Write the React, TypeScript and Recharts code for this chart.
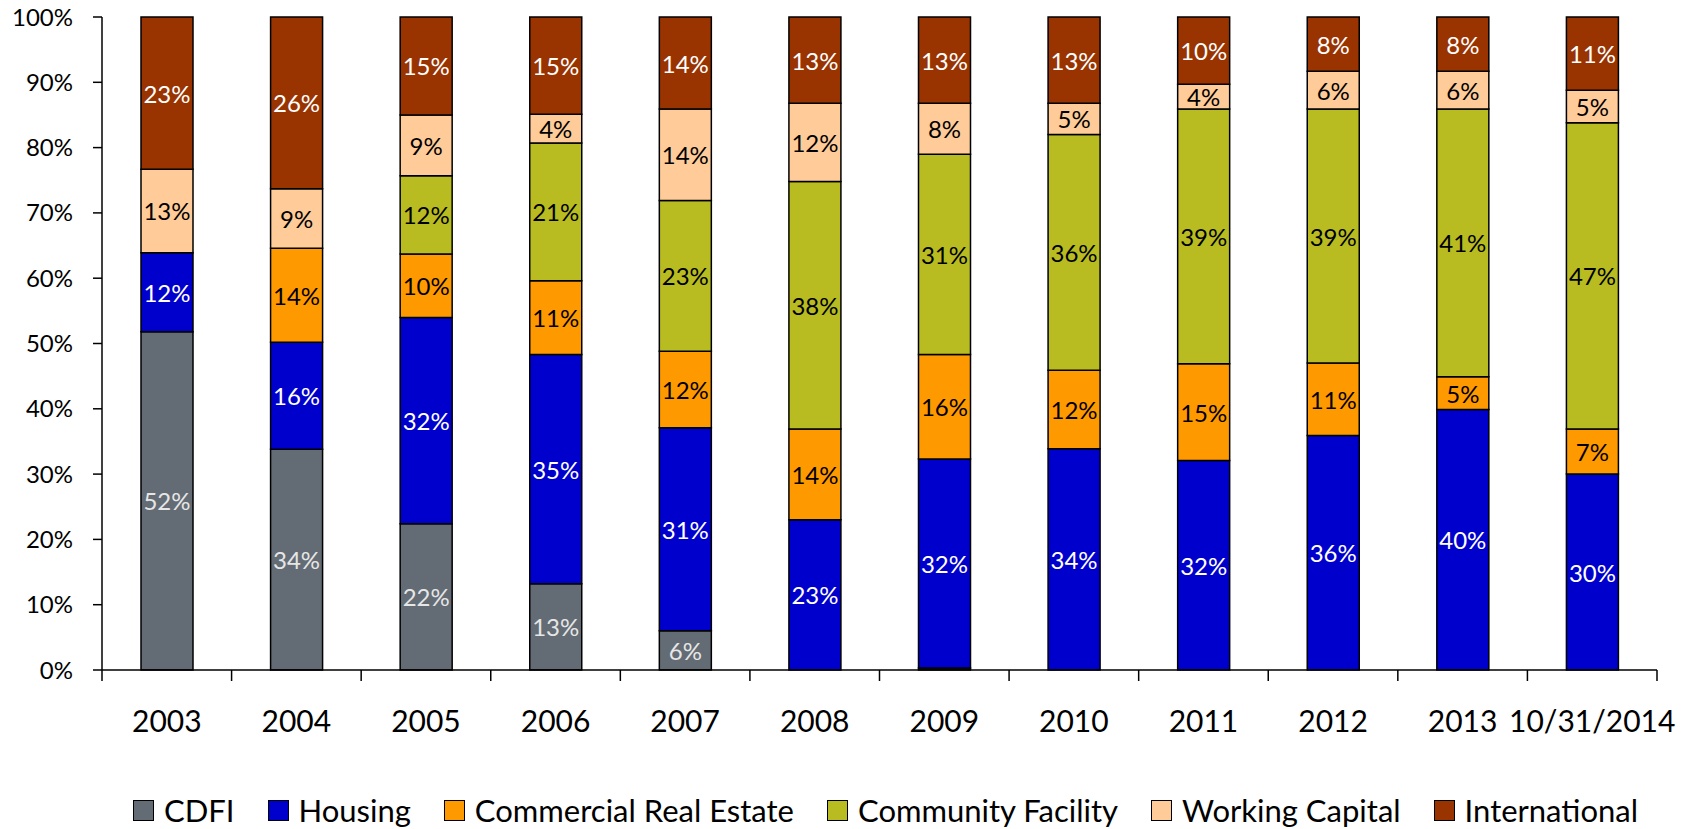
import React from 'react';
import { BarChart, Bar, XAxis, YAxis, Legend, LabelList } from 'recharts';

const years = ['2003', '2004', '2005', '2006', '2007', '2008', '2009', '2010', '2011', '2012', '2013', '10/31/2014'];
const cdfi = [51.8, 33.8, 22.4, 13.2, 6.0, 0, 0.3, 0, 0, 0, 0, 0];
const housing = [12.1, 16.4, 31.6, 35.1, 31.1, 23.0, 32.0, 33.9, 32.1, 35.9, 39.9, 30.0];
const commercial = [0, 14.4, 9.7, 11.3, 11.7, 13.9, 16.0, 12.0, 14.8, 11.1, 5.0, 6.9];
const community = [0, 0, 12.0, 21.1, 23.1, 37.9, 30.7, 36.1, 39.0, 38.9, 41.0, 46.9];
const working = [12.8, 9.1, 9.3, 4.4, 14.0, 12.0, 7.8, 4.8, 3.8, 5.8, 5.8, 5.0];
const international = [23.3, 26.3, 15.0, 14.9, 14.1, 13.2, 13.2, 13.2, 10.3, 8.3, 8.3, 11.2];
const yTicks = [0, 10, 20, 30, 40, 50, 60, 70, 80, 90, 100];

const series = [
  { key: 'cdfi', name: 'CDFI', values: cdfi, color: '#636b74', label: '#e6e6e6' },
  { key: 'housing', name: 'Housing', values: housing, color: '#0000cc', label: '#ffffff' },
  { key: 'commercial', name: 'Commercial Real Estate', values: commercial, color: '#ff9900', label: '#000000' },
  { key: 'community', name: 'Community Facility', values: community, color: '#b9bc21', label: '#000000' },
  { key: 'working', name: 'Working Capital', values: working, color: '#ffcc99', label: '#000000' },
  { key: 'international', name: 'International', values: international, color: '#993300', label: '#ffffff' },
];

const data = years.map((year, i) => {
  const row: any = { year };
  series.forEach((s) => (row[s.key] = s.values[i]));
  return row;
});

const WIDTH = 1690;
const HEIGHT = 826;
const Y_AXIS_W = 102;
const RIGHT = 33;
const band = (WIDTH - Y_AXIS_W - RIGHT) / years.length;

const XTick = (props: any) => {
  const { x, y, payload, index } = props;
  return (
    <g>
      <line x1={x - band / 2} y1={y} x2={x - band / 2} y2={y + 11} stroke="#000" strokeWidth={1.5} />
      {index === years.length - 1 && (
        <line x1={x + band / 2} y1={y} x2={x + band / 2} y2={y + 11} stroke="#000" strokeWidth={1.5} />
      )}
      <text x={x} y={y + 62} textAnchor="middle" fontSize={30} fill="#000">
        {payload.value}
      </text>
    </g>
  );
};

const makeLabel = (color: string) => (props: any) => {
  const { x, y, width, height, value } = props;
  if (value == null || value < 1) return null;
  return (
    <text x={x + width / 2} y={y + height / 2} textAnchor="middle" dominantBaseline="central" fontSize={24} fill={color}>
      {Math.round(value) + '%'}
    </text>
  );
};

const LegendBox = () => (
  <div style={{ display: 'flex', alignItems: 'center', height: 32, lineHeight: '32px', paddingLeft: 133, fontSize: 31, color: '#000' }}>
    {series.map((s) => (
      <div key={s.key} style={{ display: 'flex', alignItems: 'center', marginRight: 33 }}>
        <div style={{ width: 19, height: 19, background: s.color, border: '1.5px solid #000', marginRight: 10 }} />
        <span>{s.name}</span>
      </div>
    ))}
  </div>
);

export default function App() {
  return (
    <div style={{ fontFamily: 'Lato, sans-serif', position: 'absolute', left: 0, top: 0 }}>
      <BarChart width={WIDTH} height={HEIGHT} data={data} margin={{ top: 17, right: RIGHT, left: 0, bottom: 0 }} barSize={52}>
        <XAxis
          dataKey="year"
          axisLine={{ stroke: '#000', strokeWidth: 1.5 }}
          tickLine={false}
          tickSize={0}
          tickMargin={0}
          interval={0}
          height={124}
          tick={<XTick />}
        />
        <XAxis xAxisId="top" dataKey="year" orientation="top" height={0} tick={false} tickLine={false} axisLine={{ stroke: '#a6a6a6', strokeWidth: 1.5 }} />
        <YAxis
          domain={[0, 100]}
          ticks={yTicks}
          tickFormatter={(v: number) => v + '%'}
          width={Y_AXIS_W}
          tickSize={9}
          tickMargin={20}
          axisLine={{ stroke: '#000', strokeWidth: 1.5 }}
          tickLine={{ stroke: '#000', strokeWidth: 1.5 }}
          tick={{ fill: '#000', fontSize: 24 }}
        />
        <YAxis yAxisId="right" orientation="right" domain={[0, 100]} width={0} tick={false} tickLine={false} axisLine={{ stroke: '#a6a6a6', strokeWidth: 1.5 }} />
        <Legend verticalAlign="bottom" wrapperStyle={{ left: 0, width: WIDTH }} content={<LegendBox />} />
        {series.map((s) => (
          <Bar key={s.key} dataKey={s.key} name={s.name} stackId="a" fill={s.color} stroke="#000" strokeWidth={1.5} isAnimationActive={false}>
            <LabelList dataKey={s.key} content={makeLabel(s.label)} />
          </Bar>
        ))}
      </BarChart>
    </div>
  );
}
